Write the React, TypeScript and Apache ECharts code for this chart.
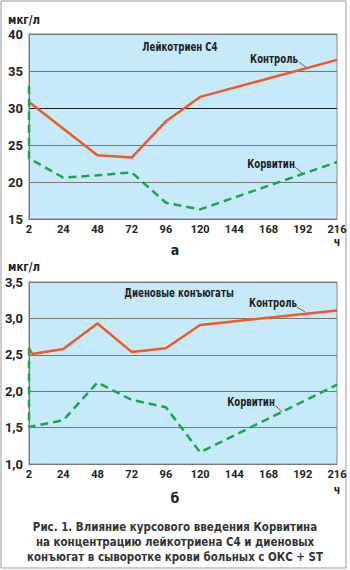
import React, { useEffect, useRef } from "react";
import * as echarts from "echarts";

// Tick labels (hours) – evenly spaced on the axis
const hourTicks = ["2", "24", "48", "72", "96", "120", "144", "168", "192", "216"];

// Panel а: leukotriene C4 (мкг/л); x = tick index
const ltControlX = [0, 2, 3, 4, 5, 9];
const ltControlY = [30.8, 23.6, 23.3, 28.2, 31.5, 36.5];
const ltCorvitinX = [0, 0, 1, 2, 3, 4, 5, 9];
const ltCorvitinY = [33, 23.2, 20.6, 20.9, 21.3, 17.2, 16.3, 22.7];

// Panel б: diene conjugates (мкг/л)
const dcControlX = [0, 0.1, 1, 2, 3, 4, 5, 9];
const dcControlY = [2.59, 2.51, 2.58, 2.93, 2.54, 2.59, 2.91, 3.11];
const dcCorvitinX = [0, 0, 1, 2, 3, 4, 5, 9];
const dcCorvitinY = [2.6, 1.51, 1.6, 2.12, 1.88, 1.78, 1.16, 2.09];

const captionLines = [
  "Рис. 1. Влияние курсового введения Корвитина",
  "на концентрацию лейкотриена С4 и диеновых",
  "конъюгат в сыворотке крови больных с ОКС + ST",
];

const FONT = '"DejaVu Sans Condensed", "DejaVu Sans", sans-serif';
const AXFONT = 'Roboto, "DejaVu Sans", sans-serif';
const ORANGE = "#f15a22";
const GREEN = "#1aa64a";
const BG = "#c6eaf9";

const zip = (xs: number[], ys: number[]) => xs.map((x, i) => [x, ys[i]]);

export default function App() {
  const ref = useRef<HTMLDivElement>(null);
  useEffect(() => {
    document.body.style.margin = "0";
    const chart = echarts.init(ref.current!, null, { renderer: "svg" });
    const xAxisBase = (gridIndex: number) => ({
      type: "value" as const,
      gridIndex,
      min: 0,
      max: 9,
      interval: 1,
      axisLine: { show: true, lineStyle: { color: "#777", width: 1 } },
      axisTick: { show: false },
      splitLine: { show: false },
      axisLabel: {
        formatter: (v: number) => hourTicks[Math.round(v)] ?? "",
        color: "#222",
        fontWeight: "bold" as const,
        fontSize: 11,
        fontFamily: AXFONT,
        margin: 5,
      },
    });
    const labelStyle = {
      fill: "#222",
      fontWeight: "bold",
      fontSize: 12,
      fontFamily: FONT,
    };
    const label = (text: string, x: number, y: number, sx = 0.8, extra: any = {}) => ({
      type: "text",
      x,
      y,
      scaleX: sx,
      style: { ...labelStyle, text, textAlign: "center", textVerticalAlign: "middle", ...extra },
    });
    chart.setOption({
      animation: false,
      grid: [
        { left: 29, top: 34, width: 308, height: 185, show: true, backgroundColor: BG, borderColor: "#888", borderWidth: 1 },
        { left: 29, top: 282, width: 308, height: 182, show: true, backgroundColor: BG, borderColor: "#888", borderWidth: 1 },
      ],
      xAxis: [xAxisBase(0), xAxisBase(1)],
      yAxis: [
        {
          type: "value",
          gridIndex: 0,
          min: 15,
          max: 40,
          interval: 5,
          axisLine: { show: true, lineStyle: { color: "#777" } },
          axisTick: { show: false },
          splitLine: { show: true, lineStyle: { color: ["#777", "#777", "#777", "#222", "#777", "#777"], width: 1 } },
          axisLabel: { color: "#222", fontWeight: "bold", fontSize: 13, fontFamily: AXFONT, margin: 6 },
        },
        {
          type: "value",
          gridIndex: 1,
          min: 1,
          max: 3.5,
          interval: 0.5,
          axisLine: { show: true, lineStyle: { color: "#777" } },
          axisTick: { show: false },
          splitLine: { show: true, lineStyle: { color: "#777", width: 1 } },
          axisLabel: {
            color: "#222",
            fontWeight: "bold",
            fontSize: 13,
            fontFamily: AXFONT,
            margin: 6,
            formatter: (v: number) => v.toFixed(1).replace(".", ","),
          },
        },
      ],
      series: [
        {
          name: "Контроль",
          type: "line",
          xAxisIndex: 0,
          yAxisIndex: 0,
          data: zip(ltControlX, ltControlY),
          symbol: "none",
          lineStyle: { color: ORANGE, width: 2.5 },
        },
        {
          name: "Корвитин",
          type: "line",
          xAxisIndex: 0,
          yAxisIndex: 0,
          data: zip(ltCorvitinX, ltCorvitinY),
          symbol: "none",
          lineStyle: { color: GREEN, width: 2.5, type: [8, 5] },
        },
        {
          name: "Контроль",
          type: "line",
          xAxisIndex: 1,
          yAxisIndex: 1,
          data: zip(dcControlX, dcControlY),
          symbol: "none",
          lineStyle: { color: ORANGE, width: 2.5 },
        },
        {
          name: "Корвитин",
          type: "line",
          xAxisIndex: 1,
          yAxisIndex: 1,
          data: zip(dcCorvitinX, dcCorvitinY),
          symbol: "none",
          lineStyle: { color: GREEN, width: 2.5, type: [8, 5] },
        },
      ],
      graphic: [
        { type: "rect", shape: { x: 1, y: 1, width: 345, height: 567 }, style: { fill: "none", stroke: "#999", lineWidth: 1 }, silent: true },
        label("мкг/л", 24, 20, 0.95),
        label("мкг/л", 24, 267, 0.95),
        label("Лейкотриен С4", 180, 47, 0.8),
        label("Контроль", 274, 59, 0.8),
        { type: "line", shape: { x1: 299, y1: 62, x2: 307, y2: 68 }, style: { stroke: "#666", lineWidth: 1 } },
        label("Корвитин", 271, 164, 0.8),
        { type: "line", shape: { x1: 295, y1: 167, x2: 302, y2: 173 }, style: { stroke: "#666", lineWidth: 1 } },
        label("ч", 337, 242, 0.9),
        label("а", 175, 250, 1, { fontSize: 14 }),
        label("Диеновые конъюгаты", 179, 293, 0.8),
        label("Контроль", 273, 303, 0.8),
        { type: "line", shape: { x1: 297, y1: 307, x2: 305, y2: 312 }, style: { stroke: "#666", lineWidth: 1 } },
        label("Корвитин", 251, 402, 0.8),
        { type: "line", shape: { x1: 276, y1: 406, x2: 282, y2: 412 }, style: { stroke: "#666", lineWidth: 1 } },
        label("ч", 337, 490, 0.9),
        label("б", 175, 498, 1, { fontSize: 14 }),
        ...captionLines.map((t, i) => label(t, 175, 527 + i * 15, 0.88, { fill: "#333", fontSize: 13 })),
      ],
    });
    return () => chart.dispose();
  }, []);
  return <div ref={ref} style={{ width: 350, height: 570 }} />;
}
